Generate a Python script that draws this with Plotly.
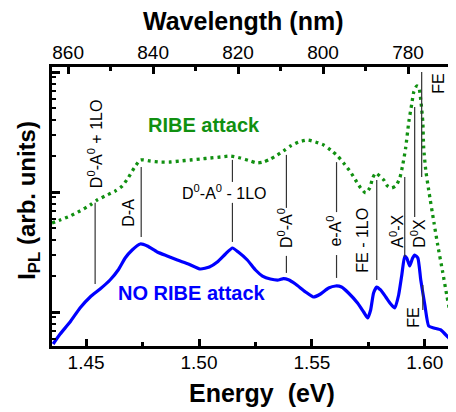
import plotly.graph_objects as go

# ---- data ----
# NO RIBE attack (blue, solid): photon energy (eV) and PL intensity (arb. units, log scale)
blue_energy = [1.4354, 1.4385, 1.4429, 1.4473, 1.4518, 1.4562, 1.4606, 1.4642, 1.4673, 1.4704,
               1.4740, 1.4771, 1.4815, 1.4859, 1.4904, 1.4953, 1.5006, 1.5046, 1.5081, 1.5117,
               1.5148, 1.5174, 1.5214, 1.5250, 1.5281, 1.5316, 1.5352, 1.5374, 1.5396, 1.5427,
               1.5472, 1.5507, 1.5538, 1.5574, 1.5605, 1.5631, 1.5662, 1.5702, 1.5729, 1.5747,
               1.5760, 1.5773, 1.5787, 1.5804, 1.5827, 1.5849, 1.5867, 1.5884, 1.5898, 1.5911,
               1.5920, 1.5933, 1.5946, 1.5955, 1.5969, 1.5982, 1.6000, 1.6017, 1.6040, 1.6071,
               1.6102, 1.6137]
blue_intensity = [0.541, 0.655, 0.825, 1.080, 1.334, 1.555, 1.848, 2.239, 2.818, 3.286,
                  3.687, 3.548, 3.162, 2.929, 2.712, 2.512, 2.282, 2.371, 2.610, 3.043,
                  3.415, 3.162, 2.712, 2.239, 1.995, 1.884, 1.848, 1.900, 1.860, 1.711,
                  1.468, 1.334, 1.413, 1.585, 1.647, 1.616, 1.440, 1.189, 1.000, 0.891,
                  1.039, 1.440, 1.616, 1.526, 1.334, 1.166, 1.080, 1.386, 2.034, 2.929,
                  2.818, 2.418, 2.818, 2.985, 2.818, 1.848, 1.144, 0.765, 0.736, 0.708,
                  0.619, 0.521]

# RIBE attack (green, dotted)
green_energy = [1.4349, 1.4385, 1.4429, 1.4473, 1.4518, 1.4549, 1.4584, 1.4629, 1.4660, 1.4686,
                1.4713, 1.4740, 1.4784, 1.4828, 1.4873, 1.4917, 1.4961, 1.5006, 1.5050, 1.5095,
                1.5139, 1.5183, 1.5228, 1.5259, 1.5285, 1.5316, 1.5347, 1.5374, 1.5405, 1.5441,
                1.5481, 1.5516, 1.5552, 1.5583, 1.5614, 1.5640, 1.5671, 1.5693, 1.5716, 1.5738,
                1.5756, 1.5769, 1.5782, 1.5800, 1.5818, 1.5835, 1.5853, 1.5871, 1.5889, 1.5902,
                1.5915, 1.5929, 1.5942, 1.5951, 1.5964, 1.5973, 1.5982, 1.5991, 1.5995, 1.6004,
                1.6017, 1.6040, 1.6057, 1.6079, 1.6097, 1.6115, 1.6128]
green_intensity = [5.516, 5.843, 6.310, 6.948, 7.795, 8.577, 9.261, 10.19, 11.22, 13.08,
                   15.85, 18.48, 18.13, 17.78, 17.78, 18.13, 18.48, 18.84, 19.20, 19.57,
                   19.95, 19.20, 18.13, 17.45, 17.78, 18.84, 20.34, 21.96, 24.17, 26.10,
                   27.13, 26.10, 24.64, 22.39, 19.95, 17.45, 14.68, 12.59, 10.80, 9.81,
                   10.80, 13.08, 14.40, 13.59, 12.59, 11.22, 10.80, 11.22, 13.08, 16.79,
                   23.26, 38.31, 54.12, 68.13, 76.43, 74.99, 58.45, 38.31, 23.26, 15.26,
                   10.39, 5.623, 3.617, 2.154, 1.386, 0.944, 0.858]

energy_ticks = [1.45, 1.50, 1.55, 1.60]
energy_minor = [1.475, 1.525, 1.575]
wavelength_ticks = [860, 840, 820, 800, 780]
wavelength_minor = [850, 830, 810, 790, 770]
y_major = [1, 10, 100]
y_minor = [0.6, 0.7, 0.8, 0.9, 2, 3, 4, 5, 6, 7, 8, 9, 20, 30, 40, 50, 60, 70, 80, 90]

# peak labels: text, line energy, text energy, text y (paper), angle, line segments (paper y)
peak_labels = [
    ("D<sup>0</sup>-A<sup>0</sup> + 1LO", 1.4540, 1.4540, 0.724, -90, [(0.222, 0.513)]),
    ("D-A", 1.4744, 1.4689, 0.477, -90, [(0.391, 0.642)]),
    ("D<sup>0</sup>-A<sup>0</sup> - 1LO", 1.5148, 1.5112, 0.552, 0, [(0.588, 0.667), (0.373, 0.513)]),
    ("D<sup>0</sup>-A<sup>0</sup>", 1.5387, 1.5381, 0.423, -90, [(0.495, 0.685), (0.262, 0.323)]),
    ("e-A<sup>0</sup>", 1.5609, 1.5600, 0.412, -90, [(0.480, 0.659), (0.244, 0.326)]),
    ("FE - 1LO", 1.5787, 1.5725, 0.380, -90, [(0.237, 0.595)]),
    ("A<sup>0</sup>-X", 1.5911, 1.5875, 0.412, -90, [(0.319, 0.606)]),
    ("D<sup>0</sup>X", 1.5955, 1.5969, 0.405, -90, [(0.462, 0.857)]),
    ("FE", 1.5986, 1.6057, 0.939, -90, [(0.606, 0.982)]),
    ("FE", 1.5991, 1.5946, 0.100, -90, [(0.129, 0.219)]),
]

FONT = "Liberation Sans, Arial, sans-serif"

fig = go.Figure()
fig.add_trace(go.Scatter(x=green_energy, y=green_intensity, mode="lines",
                         line=dict(color="#119011", width=3.3, dash="3px,4px", shape="spline", smoothing=0.6),
                         showlegend=False, hoverinfo="skip"))
fig.add_trace(go.Scatter(x=blue_energy, y=blue_intensity, mode="lines",
                         line=dict(color="#0000FF", width=3.2, shape="spline", smoothing=0.5),
                         showlegend=False, hoverinfo="skip"))
# invisible trace so the top wavelength axis is drawn
fig.add_trace(go.Scatter(x=wavelength_ticks, y=[1] * len(wavelength_ticks), xaxis="x2", yaxis="y",
                         mode="markers", marker=dict(opacity=0), showlegend=False, hoverinfo="skip"))

annotations = []
shapes = []
for text, e_line, e_text, y_text, ang, segs in peak_labels:
    for y0, y1 in segs:
        shapes.append(dict(type="line", xref="x", yref="paper", x0=e_line, x1=e_line, y0=y0, y1=y1,
                           line=dict(color="#333333", width=1.2)))
    annotations.append(dict(text=text, xref="x", yref="paper", x=e_text, y=y_text,
                            textangle=ang, showarrow=False, xanchor="center", yanchor="middle",
                            font=dict(family=FONT, size=16, color="black")))

annotations += [
    dict(text="RIBE attack", xref="paper", yref="paper", x=0.376, y=0.839, showarrow=False,
         font=dict(family=FONT, size=20, color="#119011", weight="bold")),
    dict(text="NO RIBE attack", xref="paper", yref="paper", x=0.347, y=0.143, showarrow=False,
         font=dict(family=FONT, size=20, color="#0000FF", weight="bold")),
    dict(text="I<sub>PL</sub> (arb. units)", xref="paper", yref="paper", x=-0.060, y=0.523,
         textangle=-90, showarrow=False, xanchor="center", yanchor="middle",
         font=dict(family=FONT, size=24, color="black", weight="bold")),
    dict(text="Wavelength (nm)", xref="paper", yref="paper", x=0.474, y=1.165, showarrow=False,
         xanchor="center", yanchor="middle",
         font=dict(family=FONT, size=25, color="black", weight="bold")),
    dict(text="Energy\u00a0 (eV)", xref="paper", yref="paper", x=0.521, y=-0.170, showarrow=False,
         xanchor="center", yanchor="middle",
         font=dict(family=FONT, size=25, color="black", weight="bold")),
]

fig.update_layout(
    width=448, height=404,
    margin=dict(l=44, r=0, t=59, b=66),
    plot_bgcolor="white", paper_bgcolor="white",
    font=dict(family=FONT, size=19, color="black"),
    xaxis=dict(range=[1.4349, 1.6138], tickvals=energy_ticks, tickformat=".2f",
               ticks="inside", ticklen=7, tickwidth=2.5, tickcolor="black", ticklabelstandoff=-3,
               minor=dict(tickvals=energy_minor, ticks="inside", ticklen=4, tickwidth=2.5, tickcolor="black"),
               showline=True, linewidth=3, linecolor="black", showgrid=False, zeroline=False,
               tickfont=dict(size=19)),
    xaxis2=dict(range=[863.8, 768.7], overlaying="x", side="top", anchor="y",
                tickvals=wavelength_ticks, ticks="inside", ticklen=7, tickwidth=2.5, tickcolor="black",
                ticklabelstandoff=-3,
                minor=dict(tickvals=wavelength_minor, ticks="inside", ticklen=4, tickwidth=2.5, tickcolor="black"),
                showline=True, linewidth=3, linecolor="black", showgrid=False, zeroline=False,
                tickfont=dict(size=19)),
    yaxis=dict(type="log", range=[-0.2833, 2.0417], tickvals=y_major, showticklabels=False,
               ticks="inside", ticklen=8, tickwidth=2.5, tickcolor="black",
               minor=dict(tickvals=y_minor, ticks="inside", ticklen=4, tickwidth=2, tickcolor="black"),
               showline=True, linewidth=3, linecolor="black", showgrid=False, zeroline=False),
    annotations=annotations,
    shapes=shapes,
)

fig.write_html("out.html")
